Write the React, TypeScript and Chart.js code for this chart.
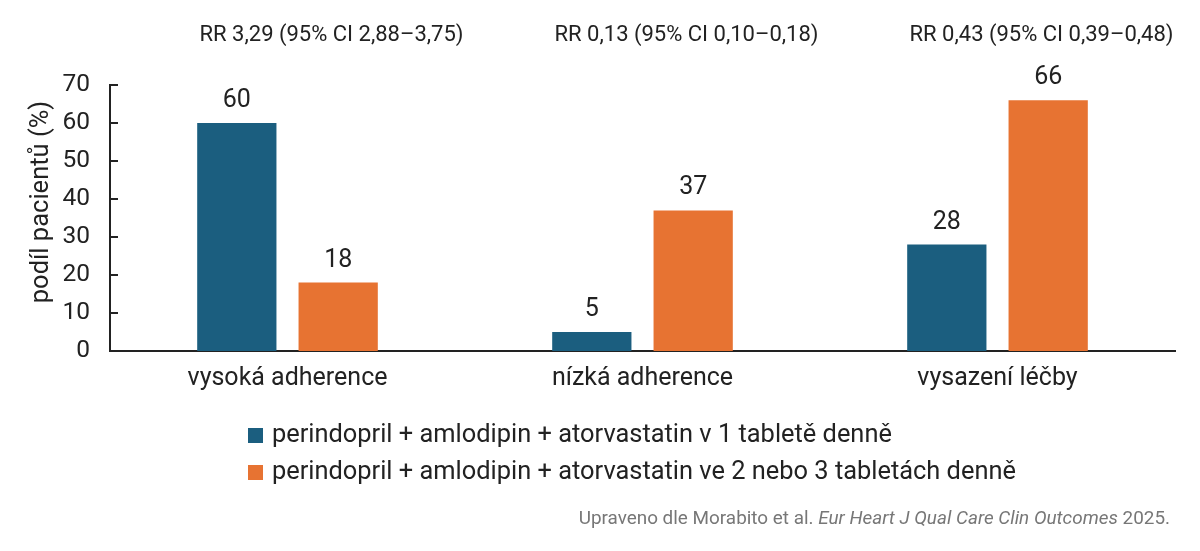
import React, { useEffect, useRef } from "react";
import { Chart, registerables } from "chart.js";

Chart.register(...registerables);

const categories = ["vysoká adherence", "nízká adherence", "vysazení léčby"];
const singlePill = [60, 5, 28];
const multiPill = [18, 37, 66];
const rrLabels = [
  "RR 3,29 (95% CI 2,88–3,75)",
  "RR 0,13 (95% CI 0,10–0,18)",
  "RR 0,43 (95% CI 0,39–0,48)",
];
const seriesNames = [
  "perindopril + amlodipin + atorvastatin v 1 tabletě denně",
  "perindopril + amlodipin + atorvastatin ve 2 nebo 3 tabletách denně",
];
const yTitle = "podíl pacientů (%)";
const sourceParts: [string, boolean][] = [
  ["Upraveno dle Morabito et al. ", false],
  ["Eur Heart J Qual Care Clin Outcomes", true],
  [" 2025.", false],
];

const BLUE = "#1b5e7f";
const ORANGE = "#e77332";
const FONT = "Roboto";

const decorPlugin = {
  id: "decor",
  afterDraw(chart: any) {
    const ctx = chart.ctx;
    const area = chart.chartArea;
    const y = chart.scales.y;
    const x = chart.scales.x;
    ctx.save();
    // inward tick marks on the y axis
    ctx.strokeStyle = "#222";
    ctx.lineWidth = 2;
    y.ticks.forEach((t: any) => {
      const py = Math.round(y.getPixelForValue(t.value));
      if (t.value === 0) return;
      ctx.beginPath();
      ctx.moveTo(area.left, py);
      ctx.lineTo(area.left + 8, py);
      ctx.stroke();
    });
    // y title
    ctx.fillStyle = "#222";
    ctx.font = `25.5px ${FONT}`;
    ctx.textAlign = "center";
    ctx.textBaseline = "middle";
    ctx.save();
    ctx.translate(42, 202);
    ctx.rotate(-Math.PI / 2);
    ctx.fillText(yTitle, 0, 0);
    ctx.restore();
    // value labels
    ctx.font = `25px ${FONT}`;
    ctx.textBaseline = "alphabetic";
    chart.data.datasets.forEach((ds: any, di: number) => {
      const meta = chart.getDatasetMeta(di);
      meta.data.forEach((bar: any, i: number) => {
        ctx.fillText(String(ds.data[i]), bar.x, bar.y - 16);
      });
    });
    // RR labels
    ctx.font = `22px ${FONT}`;
    ctx.textBaseline = "middle";
    rrLabels.forEach((lbl, i) => {
      ctx.fillText(lbl, x.getPixelForValue(i) + 44, 35);
    });
    // legend
    ctx.textAlign = "left";
    ctx.font = `25.4px ${FONT}`;
    const colors = [BLUE, ORANGE];
    seriesNames.forEach((name, i) => {
      const cy = 435 + i * 37;
      ctx.fillStyle = colors[i];
      ctx.fillRect(248, cy - 7, 15, 15);
      ctx.fillStyle = "#222";
      ctx.fillText(name, 272, cy + 1);
    });
    // source
    ctx.fillStyle = "#777";
    let total = 0;
    const fonts = sourceParts.map(([, it]) => `${it ? "italic " : ""}18.9px ${FONT}`);
    sourceParts.forEach(([t], i) => {
      ctx.font = fonts[i];
      total += ctx.measureText(t).width;
    });
    let sx = 1170 - total;
    sourceParts.forEach(([t], i) => {
      ctx.font = fonts[i];
      ctx.fillText(t, sx, 519);
      sx += ctx.measureText(t).width;
    });
    ctx.restore();
  },
};

export default function App() {
  const ref = useRef<HTMLCanvasElement | null>(null);
  useEffect(() => {
    if (!ref.current) return;
    const chart = new Chart(ref.current, {
      type: "bar",
      data: {
        labels: categories,
        datasets: [
          { label: seriesNames[0], data: singlePill, backgroundColor: BLUE },
          { label: seriesNames[1], data: multiPill, backgroundColor: ORANGE },
        ],
      },
      options: {
        animation: false,
        responsive: false,
        devicePixelRatio: 1,
        layout: { padding: { top: 85, right: 25, bottom: 160, left: 0 } },
        datasets: {
          bar: { categoryPercentage: 0.571, barPercentage: 0.782 },
        } as any,
        plugins: {
          legend: { display: false },
          tooltip: { enabled: false },
        },
        scales: {
          x: {
            grid: { display: false, drawTicks: false },
            border: { display: true, color: "#222", width: 2 },
            ticks: { color: "#222", font: { family: FONT, size: 25 }, padding: 13 },
            afterFit: (s: any) => {
              s.height = 40;
            },
          },
          y: {
            min: 0,
            max: 70,
            grid: { display: false, drawTicks: false },
            border: { display: true, color: "#222", width: 2 },
            ticks: {
              stepSize: 10,
              color: "#222",
              font: { family: FONT, size: 24.5 },
              padding: 20,
            },
            afterFit: (s: any) => {
              s.width = 110;
            },
          },
        },
      },
      plugins: [decorPlugin],
    });
    return () => chart.destroy();
  }, []);
  return (
    <div style={{ position: "fixed", left: 0, top: 0, width: 1200, height: 551, background: "#fff" }}>
      <canvas ref={ref} width={1200} height={551} style={{ display: "block" }} />
    </div>
  );
}
